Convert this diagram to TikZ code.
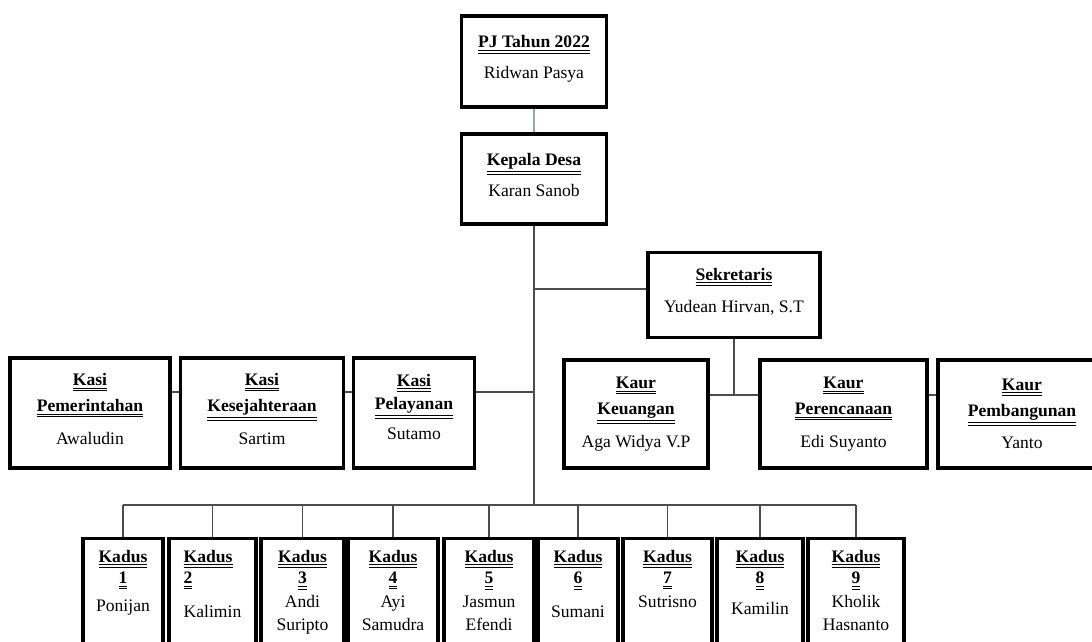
\documentclass[tikz,border=0pt]{standalone}
\usepackage{fontspec}
\setmainfont{Liberation Serif}
\newcommand{\hd}[1]{\textbf{\underline{\underline{#1}}}}
\definecolor{pjline}{HTML}{8EA6BE}
\tikzset{
  box/.style={draw, line width=2.3pt, align=center, inner sep=0pt,
    font=\fontsize{12.5}{17}\selectfont},
  size/.style 2 args={minimum width=#1*0.025cm, minimum height=#2*0.025cm},
  kadus/.style={box, anchor=north, inner ysep=8pt, text depth=3cm,
    minimum width=#1*0.025cm},
  link/.style={draw=black!70, line width=0.9pt},
}
\begin{document}
\begin{tikzpicture}[x=0.025cm, y=-0.025cm]
  \clip (0,0) rectangle (1092,642);
  % pimpinan
  \node[box, size={145}{91}] (pj) at (534,61.5) {\hd{PJ Tahun 2022}\\[5pt]Ridwan Pasya\\[-11pt]};
  \node[box, size={145}{90}] (kades) at (534,179) {\hd{Kepala Desa}\\[5pt]Karan Sanob\\[-11pt]};
  \node[box, size={172}{85}] (sekdes) at (734,295) {\hd{Sekretaris}\\[6pt]Yudean Hirvan, S.T\\[-10pt]};
  % kasi
  \node[box, size={160}{110}] (kasi1) at (90,413) {\hd{Kasi}\\[1.5pt]\hd{Pemerintahan}\\[6pt]Awaludin\\[-11pt]};
  \node[box, size={163}{110}] (kasi2) at (262,413) {\hd{Kasi}\\[1.5pt]\hd{Kesejahteraan}\\[6pt]Sartim\\[-11pt]};
  \node[box, size={121}{110}] (kasi3) at (414,413) {\hd{Kasi}\\[0pt]\hd{Pelayanan}\\[4pt]Sutamo\\[-8pt]};
  % kaur
  \node[box, size={144}{108}] (kaur1) at (636,414) {\hd{Kaur}\\[1.5pt]\hd{Keuangan}\\[6pt]Aga Widya V.P};
  \node[box, size={167}{108}] (kaur2) at (843.5,414) {\hd{Kaur}\\[1.5pt]\hd{Perencanaan}\\[6pt]Edi Suyanto};
  \node[box, size={168}{108}] (kaur3) at (1022,414) {\hd{Kaur}\\[1.5pt]\hd{Pembangunan}\\[6pt]Yanto};
  % kadus
  \node[kadus=80] (k1) at (123,537) {\hd{Kadus}\\[-1.5pt]\hd{1}\\[3pt]Ponijan};
  \node[kadus=87, align=left] (k2) at (212.5,537) {\hd{Kadus}\\[-1.5pt]\hd{2}\\[7pt]Kalimin};
  \node[kadus=83] (k3) at (302.5,537) {\hd{Kadus}\\[-1.5pt]\hd{3}\\[0pt]Andi\\[-1pt]Suripto};
  \node[kadus=90] (k4) at (393,537) {\hd{Kadus}\\[-1.5pt]\hd{4}\\[0pt]Ayi\\[-1pt]Samudra};
  \node[kadus=90] (k5) at (489,537) {\hd{Kadus}\\[-1.5pt]\hd{5}\\[0pt]Jasmun\\[-1pt]Efendi};
  \node[kadus=80] (k6) at (578,537) {\hd{Kadus}\\[-1.5pt]\hd{6}\\[7pt]Sumani};
  \node[kadus=89] (k7) at (667.5,537) {\hd{Kadus}\\[-1.5pt]\hd{7}\\[0pt]Sutrisno};
  \node[kadus=86] (k8) at (760,537) {\hd{Kadus}\\[-1.5pt]\hd{8}\\[5pt]Kamilin};
  \node[kadus=96] (k9) at (856,537) {\hd{Kadus}\\[-1.5pt]\hd{9}\\[0pt]Kholik\\[-1pt]Hasnanto};
  % garis
  \coordinate (bus) at (534,505);
  \coordinate (sekrow) at (0,289);
  \coordinate (kasiy) at (0,392);
  \coordinate (kaury) at (0,395);
  \draw[link, draw=pjline] (pj) -- (kades);
  \draw[link] (kades.south) -- (bus);
  \draw[link] (bus |- sekrow) -- (sekdes.west |- sekrow);
  \draw[link] (kasi1.east |- kasiy) -- (kasi2.west |- kasiy);
  \draw[link] (kasi2.east |- kasiy) -- (kasi3.west |- kasiy);
  \draw[link] (kasi3.east |- kasiy) -- (bus |- kasiy);
  \draw[link] (sekdes.south) -- (sekdes.south |- kaury);
  \draw[link] (kaur1.east |- kaury) -- (kaur2.west |- kaury);
  \draw[link] (kaur2.east |- kaury) -- (kaur3.west |- kaury);
  \draw[link] (k1.north |- bus) -- (k9.north |- bus);
  \foreach \i in {1,...,9} \draw[link] (k\i.north |- bus) -- (k\i.north);
\end{tikzpicture}
\end{document}
